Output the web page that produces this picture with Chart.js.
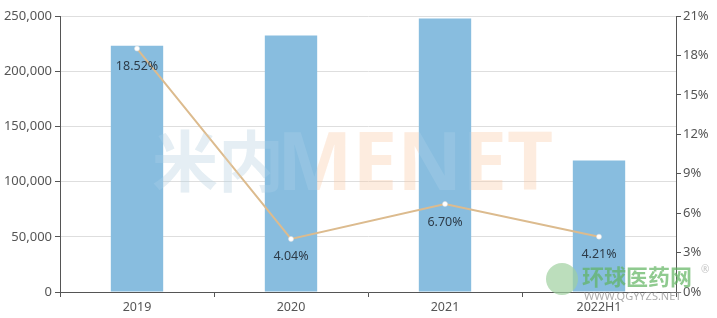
<!DOCTYPE html>
<html>
<head>
<meta charset="utf-8">
<script src="https://cdn.jsdelivr.net/npm/chart.js@4"></script>
<style>
  html, body { margin: 0; padding: 0; background: #fff; }
  #wrap { width: 717px; height: 318px; }
</style>
</head>
<body>
<div id="wrap"><canvas id="chart" width="717" height="318"></canvas></div>
<script>
// values
const categories = ['2019', '2020', '2021', '2022H1'];
const salesValues = [223000, 232300, 247700, 119000];
const growthRates = [18.52, 4.04, 6.70, 4.21];
const leftAxisMax = 250000;
const leftAxisStep = 50000;
const rightAxisMax = 21;
const rightAxisStep = 3;

const barColor = '#88bddf';
const lineColor = '#dcbb8e';
const axisColor = '#555';
const gridColor = '#dedede';
const fontFamily = '"Noto Sans", "Open Sans", sans-serif';

// percent labels under each line point
const pointLabels = {
    id: 'pointLabels',
    afterDatasetsDraw(chart) {
        const ctx = chart.ctx;
        const meta = chart.getDatasetMeta(1);
        ctx.save();
        ctx.font = '12.5px ' + fontFamily;
        ctx.fillStyle = '#2d3b48';
        ctx.textAlign = 'center';
        ctx.textBaseline = 'middle';
        meta.data.forEach((pt, i) => {
            ctx.fillText(growthRates[i].toFixed(2) + '%', pt.x, pt.y + 18);
        });
        ctx.restore();
    }
};

// faint watermarks seen on the picture
const watermarks = {
    id: 'watermarks',
    beforeDatasetsDraw(chart) {
        const ctx = chart.ctx;
        ctx.save();
        ctx.textBaseline = 'alphabetic';
        ctx.font = 'bold 80px ' + fontFamily;
        ctx.globalAlpha = 0.35;
        ctx.fillStyle = '#a9c8da';
        ctx.font = 'bold 66px "Noto Sans CJK SC", sans-serif';
        ctx.fillText('米内', 152, 186);
        ctx.globalAlpha = 0.3;
        ctx.fillStyle = '#f7b98c';
        ctx.font = 'bold 80px ' + fontFamily;
        ctx.fillText('MENET', 277, 190);
        ctx.restore();
    },
    afterDatasetsDraw(chart) {
        // the logo also shows faintly through the bars
        const ctx = chart.ctx;
        ctx.save();
        ctx.globalAlpha = 0.1;
        ctx.fillStyle = '#ffffff';
        ctx.font = 'bold 66px "Noto Sans CJK SC", sans-serif';
        ctx.fillText('米内', 152, 186);
        ctx.font = 'bold 80px ' + fontFamily;
        ctx.fillText('MENET', 277, 190);
        ctx.restore();
    },
    afterDraw(chart) {
        const ctx = chart.ctx;
        ctx.save();
        ctx.globalAlpha = 0.7;
        ctx.fillStyle = '#9fd09f';
        ctx.beginPath();
        ctx.arc(562, 279, 16, 0, Math.PI * 2);
        ctx.fill();
        ctx.fillStyle = '#5fb35f';
        ctx.font = 'bold 22px "Noto Sans CJK SC", sans-serif';
        ctx.textBaseline = 'middle';
        ctx.fillText('环球医药网', 582, 277);
        ctx.fillStyle = '#888';
        ctx.font = '11px ' + fontFamily;
        ctx.fillText('WWW.QGYYZS.NET', 584, 297);
        ctx.fillStyle = '#aaa';
        ctx.font = '10px ' + fontFamily;
        ctx.fillText('®', 701, 270);
        ctx.restore();
    }
};

new Chart(document.getElementById('chart'), {
    data: {
        labels: categories,
        datasets: [
            {
                type: 'bar',
                data: salesValues,
                backgroundColor: barColor,
                borderWidth: 0,
                categoryPercentage: 1,
                barPercentage: 0.34,
                yAxisID: 'y',
                order: 2
            },
            {
                type: 'line',
                data: growthRates,
                borderColor: lineColor,
                borderWidth: 2,
                pointRadius: 2.5,
                pointBackgroundColor: '#fff',
                pointBorderColor: '#ddd',
                pointBorderWidth: 0.5,
                tension: 0,
                yAxisID: 'y2',
                order: 1
            }
        ]
    },
    options: {
        responsive: false,
        animation: false,
        layout: { padding: { top: 16, left: 0, right: 0, bottom: 0 } },
        plugins: {
            legend: { display: false },
            tooltip: { enabled: false }
        },
        scales: {
            x: {
                offset: true,
                border: { display: true, color: axisColor, width: 1 },
                grid: {
                    offset: true,
                    drawOnChartArea: false,
                    drawTicks: true,
                    tickLength: 5,
                    tickColor: axisColor
                },
                ticks: {
                    color: '#555',
                    font: { size: 12.5, family: fontFamily },
                    padding: 3,
                    maxRotation: 0
                },
                afterFit(scale) { scale.height = 26; }
            },
            y: {
                position: 'left',
                min: 0,
                max: leftAxisMax,
                border: { display: true, color: axisColor, width: 1 },
                grid: {
                    color: gridColor,
                    tickColor: axisColor,
                    tickLength: 5
                },
                ticks: {
                    stepSize: leftAxisStep,
                    color: '#555',
                    font: { size: 13, family: fontFamily },
                    padding: 3,
                    callback: v => v.toLocaleString('en-US')
                },
                afterFit(scale) { scale.width = 60; }
            },
            y2: {
                position: 'right',
                min: 0,
                max: rightAxisMax,
                border: { display: true, color: axisColor, width: 1 },
                grid: {
                    drawOnChartArea: false,
                    tickColor: axisColor,
                    tickLength: 5
                },
                ticks: {
                    stepSize: rightAxisStep,
                    color: '#555',
                    font: { size: 13, family: fontFamily },
                    padding: 2,
                    callback: v => v + '%'
                },
                afterFit(scale) { scale.width = 41; }
            }
        }
    },
    plugins: [pointLabels, watermarks]
});
</script>
</body>
</html>
